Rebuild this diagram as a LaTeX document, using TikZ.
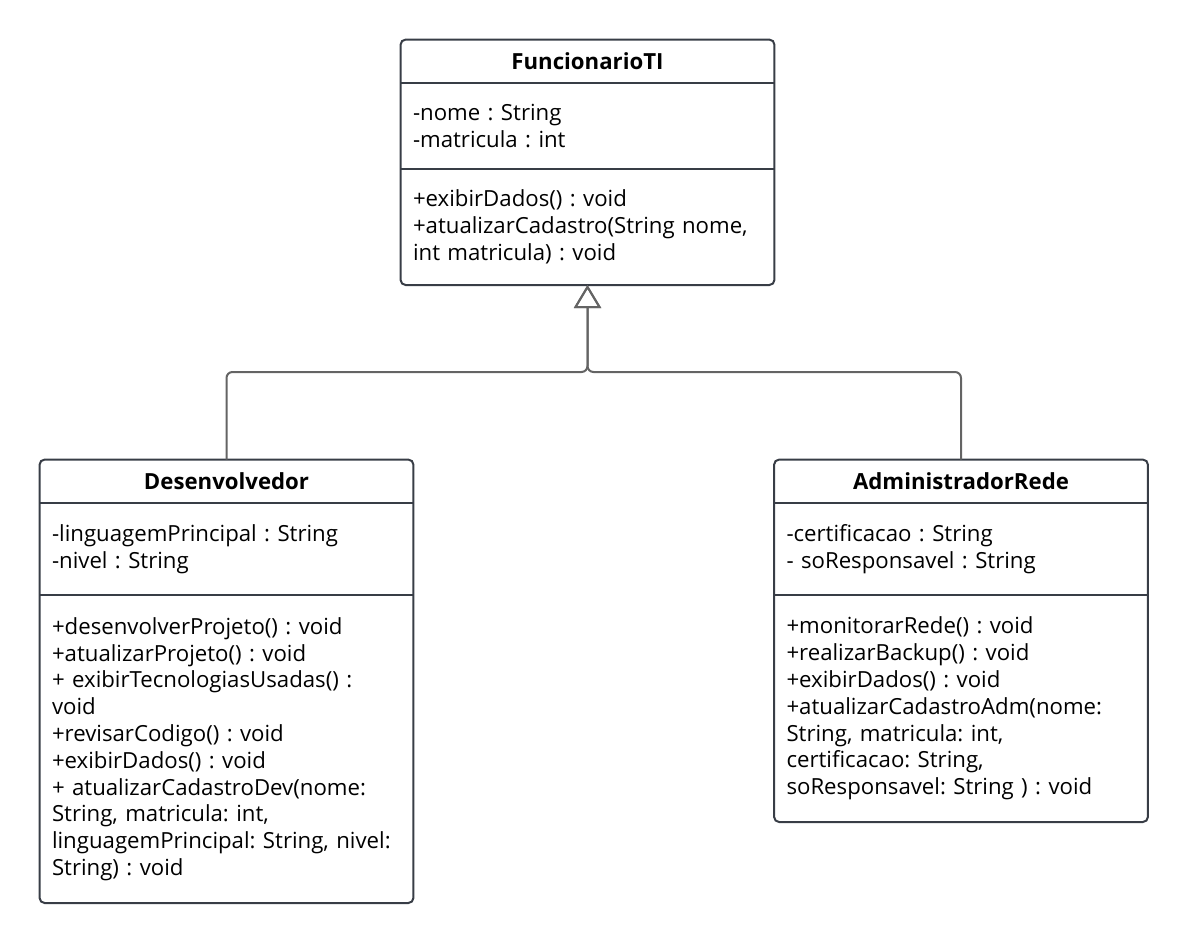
\documentclass[tikz,border=0pt]{standalone}
\usepackage{fontspec}
\setmainfont{Open Sans}
\frenchspacing
\usetikzlibrary{arrows.meta, positioning}
\definecolor{umlborder}{RGB}{56, 61, 70}
\definecolor{umlline}{RGB}{100, 100, 100}
\tikzset{
    classhead/.style = {minimum height=21.5pt, text width=174.5pt, inner xsep=6pt, inner ysep=0pt, align=center, font=\fontsize{11.1}{13.4}\selectfont\bfseries},
    classpart/.style = {text width=174.5pt, inner xsep=6pt, inner ysep=0pt, align=left, font=\fontsize{11.1}{13.4}\selectfont},
    classframe/.style = {umlborder, line width=1pt, rounded corners=2.5pt},
    divider/.style = {umlborder, line width=1pt},
    inherit/.style = {umlline, line width=1pt, rounded corners=3pt, -{Triangle[open, length=11.5pt, width=13.5pt]}}
}
\begin{document}
\begin{tikzpicture}[x=0.5pt, y=0.5pt]
  \useasboundingbox (0,0) rectangle (1188,-941);

  % FuncionarioTI
  \node[classhead] (func) at (587.5,-61.5) {FuncionarioTI};
  \node[classpart, minimum height=42.5pt, below=0pt of func] (funcattr) {-nome : String\\-matricula : int};
  \node[classpart, minimum height=57.5pt, below=0pt of funcattr] (funcops) {+exibirDados() : void\\+atualizarCadastro(String nome,\\int matricula) : void};

  % Desenvolvedor
  \node[classhead] (dev) at (226.5,-481.5) {Desenvolvedor};
  \node[classpart, minimum height=45.5pt, below=0pt of dev] (devattr) {-linguagemPrincipal : String\\-nivel : String};
  \node[classpart, minimum height=153.5pt, below=0pt of devattr] (devops) {+desenvolverProjeto() : void\\+atualizarProjeto() : void\\+ exibirTecnologiasUsadas() :\\void\\+revisarCodigo() : void\\+exibirDados() : void\\+ atualizarCadastroDev(nome:\\String, matricula: int,\\linguagemPrincipal: String, nivel:\\String) : void};

  % AdministradorRede
  \node[classhead] (adm) at (961,-481.5) {AdministradorRede};
  \node[classpart, minimum height=45.5pt, below=0pt of adm] (admattr) {-certificacao : String\\- soResponsavel : String};
  \node[classpart, minimum height=113pt, below=0pt of admattr] (admops) {+monitorarRede() : void\\+realizarBackup() : void\\+exibirDados() : void\\+atualizarCadastroAdm(nome:\\String, matricula: int,\\certificacao: String,\\soResponsavel: String ) : void};

  \foreach \c in {func, dev, adm} {
    \draw[classframe] (\c.north west) rectangle (\c ops.south east);
    \draw[divider] (\c attr.north west) -- (\c attr.north east);
    \draw[divider] (\c ops.north west) -- (\c ops.north east);
  }

  % generalization
  \coordinate (split) at (587.5,-372);
  \draw[inherit] (dev.north) |- (split) -- (funcops.south);
  \draw[inherit] (adm.north) |- (split) -- (funcops.south);
\end{tikzpicture}
\end{document}
